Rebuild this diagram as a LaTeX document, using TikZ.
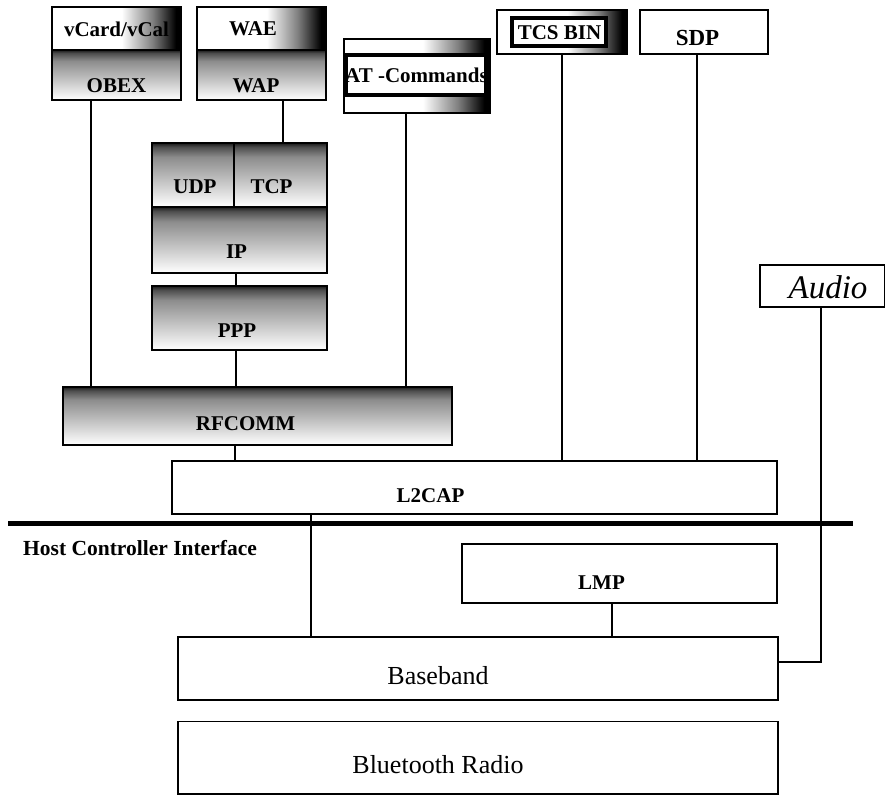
\documentclass[tikz,border=0pt]{standalone}
\usepackage{fontspec}
\setmainfont{Liberation Serif}
\usetikzlibrary{fit}

% fondus : blanc -> noir vers la droite, noir en haut -> blanc en bas
\pgfdeclarehorizontalshading{sidefade}{100bp}{color(0bp)=(white); color(25bp)=(white); color(52bp)=(white); color(64bp)=(black!50); color(73bp)=(black); color(100bp)=(black)}
\pgfdeclareverticalshading{topfade}{100bp}{color(0bp)=(white); color(25bp)=(white); color(64bp)=(black!45); color(72bp)=(black!70); color(75bp)=(black!90); color(100bp)=(black!90)}

\newcommand{\lblfont}{\fontsize{21}{21}\selectfont\bfseries}
\newcommand{\bigfont}{\fontsize{26}{26}\selectfont}

\tikzset{
  box/.style={draw=black, line width=1.6pt, inner sep=0pt},
  sidebox/.style={box, shade, shading=sidefade},
  topbox/.style={box, shade, shading=topfade},
  framebox/.style={draw=black, line width=4pt, fill=white, inner sep=0pt},
  lbl/.style={font=\lblfont, inner sep=0pt, anchor=base},
  link/.style={line width=2pt},
}

\begin{document}
\begin{tikzpicture}[x=1pt, y=-1pt]
    \useasboundingbox (0,0) rectangle (885,796);

    % --- Applications ---
    \node[sidebox, fit={(52,7)(181,50)}] (vcard) {};
    \node[topbox, fit={(52,50)(181,100)}] (obex) {};
    \node[sidebox, fit={(197,7)(326,50)}] (wae) {};
    \node[topbox, fit={(197,50)(326,100)}] (wap) {};
    \node[sidebox, fit={(344,39)(490,113)}] (atcmd) {};
    \node[framebox, fit={(346,55)(485.5,95)}] (atcmd-in) {};
    \node[sidebox, fit={(497,10)(627,54)}] (tcs) {};
    \node[framebox, fit={(512,18)(606,46)}] (tcs-in) {};
    \node[box, fit={(640,10)(768,54)}] (sdp) {};

    % --- Pile IP ---
    \node[topbox, fit={(152,143)(234,207)}] (udp) {};
    \node[topbox, fit={(234,143)(327,207)}] (tcp) {};
    \node[topbox, fit={(152,207)(327,273)}] (ip) {};
    \node[topbox, fit={(152,286)(327,350)}] (ppp) {};

    % --- Couches basses ---
    \node[topbox, fit={(63,387)(452,445)}] (rfcomm) {};
    \node[box, fit={(172,461)(777,514)}] (l2cap) {};
    \node[box, fit={(760,265)(884.5,307)}] (audio) {};
    \node[box, fit={(462,544)(777,603)}] (lmp) {};
    \node[box, fit={(178,637)(778,700)}] (baseband) {};
    \node[box, fit={(178,721.5)(778,794)}] (radio) {};

    % --- Textes ---
    \node[lbl] (vcard-t) at (116.5,36) {vCard/vCal};
    \node[lbl] (obex-t) at (116.5,92) {OBEX};
    \node[lbl] (wae-t) at (253,35) {WAE};
    \node[lbl] (wap-t) at (256,92) {WAP};
    \node[lbl] (atcmd-t) at (416.5,82) {AT -Commands};
    \node[lbl] (tcs-t) at (559.5,39) {TCS BIN};
    \node[lbl, font=\fontsize{23}{23}\selectfont\bfseries] (sdp-t) at (697.5,45) {SDP};
    \node[lbl] (udp-t) at (195,193) {UDP};
    \node[lbl] (tcp-t) at (271.5,193) {TCP};
    \node[lbl] (ip-t) at (236.5,258) {IP};
    \node[lbl] (ppp-t) at (237,337) {PPP};
    \node[lbl] (rfcomm-t) at (245.5,430) {RFCOMM};
    \node[lbl] (l2cap-t) at (430.5,502) {L2CAP};
    \node[lbl] (lmp-t) at (601.5,589) {LMP};
    \node[lbl, font=\bigfont] (baseband-t) at (438,684) {Baseband};
    \node[lbl, font=\bigfont] (radio-t) at (438,773) {Bluetooth Radio};
    \node[lbl, font=\fontsize{33}{33}\selectfont\itshape] (audio-t) at (828,298) {Audio};
    \node[lbl, anchor=base west, font=\fontsize{21.5}{21.5}\selectfont\bfseries] (hci-t) at (23,555) {Host Controller Interface};

    % --- Liaisons ---
    \draw[link] ([xshift=40pt]obex.south west) -- ([xshift=40pt]obex.south west |- rfcomm.north);
    \draw[link] ([xshift=87pt]wap.south west) -- ([xshift=87pt]wap.south west |- tcp.north);
    \draw[link] ([xshift=63pt]atcmd.south west) -- ([xshift=63pt]atcmd.south west |- rfcomm.north);
    \draw[link] ([xshift=85pt]ip.south west) -- ([xshift=85pt]ip.south west |- ppp.north);
    \draw[link] ([xshift=85pt]ppp.south west) -- ([xshift=85pt]ppp.south west |- rfcomm.north);
    \draw[link] ([xshift=173pt]rfcomm.south west) -- ([xshift=173pt]rfcomm.south west |- l2cap.north);
    \draw[link] ([xshift=66pt]tcs.south west) -- ([xshift=66pt]tcs.south west |- l2cap.north);
    \draw[link] ([xshift=58pt]sdp.south west) -- ([xshift=58pt]sdp.south west |- l2cap.north);
    \draw[link] ([xshift=140pt]l2cap.south west) -- ([xshift=140pt]l2cap.south west |- baseband.north);
    \draw[link] ([xshift=151pt]lmp.south west) -- ([xshift=151pt]lmp.south west |- baseband.north);
    \draw[link] ([xshift=62pt]audio.south west) |- ([yshift=6.5pt]baseband.east);

    % --- Interface HCI ---
    \draw[line width=5pt] (8,523.5) -- (853,523.5);
\end{tikzpicture}
\end{document}
